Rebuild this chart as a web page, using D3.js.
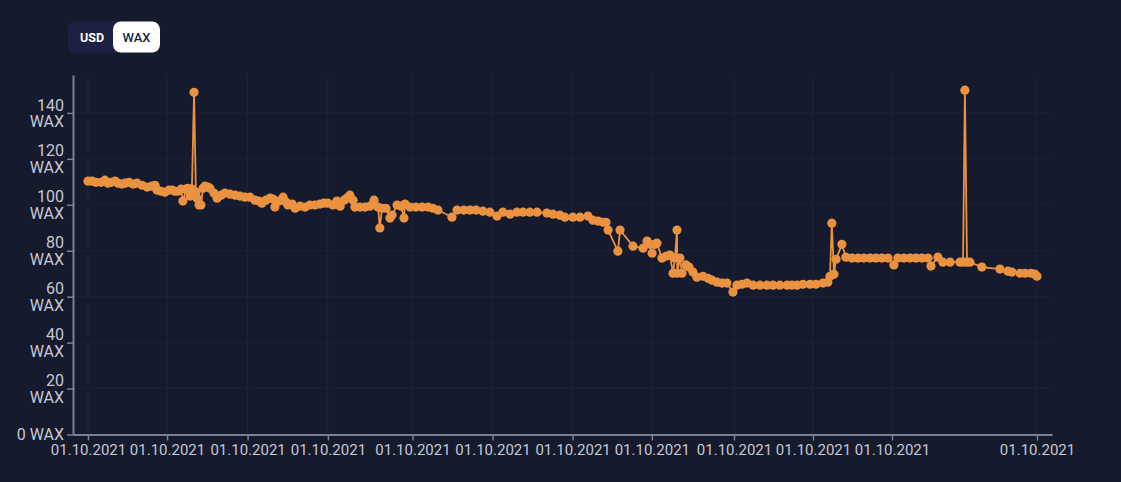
<!DOCTYPE html>
<html>
<head>
<meta charset="utf-8">
<script src="https://cdn.jsdelivr.net/npm/d3@7"></script>
<style>
  html, body { margin: 0; padding: 0; background: #151a2d; }
  svg { display: block; }
</style>
</head>
<body>
<div id="chart"></div>
<script>
// ---- data (x = days since first point, y = price in WAX) ----
const days = [0.0,1.5,3.0,4.9,6.4,7.5,8.7,10.2,11.3,12.8,14.0,15.5,17.0,18.5,20.4,22.3,24.1,25.3,26.0,27.5,29.0,30.6,31.7,32.8,33.9,35.1,35.8,37.0,37.7,38.5,39.2,40.0,40.7,41.1,41.9,42.6,43.4,44.1,45.3,46.0,47.5,48.7,50.2,51.7,53.6,55.5,57.3,59.2,61.1,63.0,64.5,65.6,67.1,68.7,69.8,70.5,72.0,73.6,74.7,75.4,77.0,78.1,80.0,81.9,83.7,85.6,87.5,89.0,90.5,92.4,93.9,95.1,96.6,97.7,98.8,100.0,100.7,102.6,104.5,106.4,107.9,109.4,110.1,110.9,112.4,113.9,114.7,116.6,118.1,119.2,119.6,121.5,123.7,126.0,128.3,130.1,132.0,137.3,139.2,141.8,144.1,146.4,149.0,151.6,154.3,156.5,159.2,161.8,164.1,166.7,169.4,173.1,175.4,178.0,179.9,182.9,185.6,188.6,190.5,192.4,194.3,195.4,196.2,199.9,200.7,205.6,209.4,210.9,212.0,212.8,213.9,214.6,216.5,218.0,219.5,220.7,221.4,222.2,222.3,223.3,224.1,225.6,226.7,228.2,229.7,232.0,233.9,235.4,237.3,239.2,241.0,243.3,244.8,246.7,248.6,250.9,253.5,256.1,258.4,261.0,263.7,265.6,267.5,269.7,272.4,274.6,277.3,279.1,279.9,280.6,281.4,282.2,284.4,285.9,288.2,290.5,292.7,295.0,297.2,299.5,301.8,304.0,305.5,307.8,310.1,312.3,314.6,316.9,318.0,320.6,322.5,325.2,328.9,330.1,330.8,331.6,332.7,337.2,344.0,347.0,348.5,351.6,353.5,355.7,357.2,358.0];
const prices = [110.3,110.3,109.8,109.8,110.7,109.4,109.8,110.3,109.4,109.0,109.4,109.8,109.0,109.4,108.5,107.7,108.1,108.5,106.4,105.9,105.5,106.4,106.4,105.9,105.9,106.8,101.6,106.8,107.2,103.8,106.8,149.0,105.5,102.9,99.9,99.9,107.2,108.1,107.7,107.2,105.1,102.9,104.2,105.1,104.6,104.2,103.8,103.3,103.3,102.0,101.6,100.7,102.0,102.9,102.5,99.0,101.6,103.3,101.2,99.9,100.3,98.5,99.4,99.0,99.9,99.9,100.3,100.7,100.7,99.9,101.6,99.4,102.0,102.9,104.2,102.0,99.0,99.0,99.0,99.4,102.0,99.0,89.9,98.5,98.5,94.2,95.5,99.9,99.4,94.2,100.3,99.0,99.0,99.0,99.0,98.5,97.7,94.6,97.7,97.7,97.7,97.7,97.2,96.8,95.1,96.8,95.9,96.8,96.8,96.8,96.8,96.4,95.9,95.5,94.6,94.6,94.6,95.1,93.3,92.9,92.4,92.4,89.0,79.8,89.0,82.0,81.1,84.2,82.8,78.9,82.8,83.3,76.8,77.6,78.1,70.2,76.8,89.0,70.2,76.8,70.2,73.8,72.9,70.7,68.5,68.9,68.0,67.2,66.3,65.9,65.9,62.0,65.0,65.4,65.9,65.0,65.0,65.0,65.0,65.0,65.0,65.0,65.0,65.4,65.4,65.4,65.9,66.3,68.9,92.0,69.8,76.3,82.8,77.2,76.8,76.8,76.8,76.8,76.8,76.8,76.8,73.8,76.8,76.8,76.8,76.8,76.8,76.8,73.3,77.2,75.0,75.0,75.0,75.0,149.9,75.0,75.0,72.9,72.0,71.1,70.7,70.2,70.2,70.2,69.8,68.9];
const xTickDays = [0, 29.8, 60.2, 90.5, 122.4, 152.6, 182.8, 212.7, 243.7, 273.5, 303.3, 358];
const xTickLabel = "01.10.2021";
const yTicks = [0, 20, 40, 60, 80, 100, 120, 140];
const unit = "WAX";
const toggleOptions = ["USD", "WAX"];
const activeOption = "WAX";

// ---- layout ----
const W = 1121, H = 482;
const svg = d3.select("#chart").append("svg").attr("width", W).attr("height", H);
svg.append("rect").attr("width", W).attr("height", H).attr("fill", "#151a2d");

const x = d3.scaleLinear().domain([-5.66, 363.66]).range([73, 1052]);
const y = d3.scaleLinear().domain([0, 156.5]).range([434.5, 75]);

const gridColor = "#1e2338";
const axisColor = "#7d8091";
const labelColor = "#c5c8d3";
const font = "Roboto, 'Open Sans', sans-serif";

// grid
const grid = svg.append("g");
grid.selectAll(".hg").data(yTicks.filter(d => d > 0)).join("line")
  .attr("x1", 73).attr("x2", 1052)
  .attr("y1", d => y(d)).attr("y2", d => y(d))
  .attr("stroke", gridColor).attr("stroke-width", 1);
grid.selectAll(".vg").data(xTickDays).join("line")
  .attr("x1", d => x(d)).attr("x2", d => x(d))
  .attr("y1", 75).attr("y2", 434.5)
  .attr("stroke", gridColor).attr("stroke-width", 1);

// axes
const yAxis = svg.append("g").attr("transform", "translate(73,0)")
  .call(d3.axisLeft(y).tickValues(yTicks).tickSize(6).tickSizeOuter(0).tickFormat(""));
const xAxis = svg.append("g").attr("transform", "translate(0,434.5)")
  .call(d3.axisBottom(x).tickValues(xTickDays).tickSize(6).tickSizeOuter(0).tickFormat(() => xTickLabel));
[yAxis, xAxis].forEach(g => {
  g.select(".domain").attr("stroke", axisColor).attr("stroke-width", 2);
  g.selectAll(".tick line").attr("stroke", axisColor).attr("stroke-width", 1.5);
});
xAxis.selectAll(".tick text")
  .attr("fill", labelColor).attr("font-family", font).attr("font-size", 15)
  .attr("dy", null).attr("y", 20);

// y labels (wrapped like the original: value on one line, unit below)
const yl = svg.append("g").attr("font-family", font).attr("font-size", 16)
  .attr("fill", labelColor).attr("text-anchor", "end");
yTicks.forEach(v => {
  if (v === 0) {
    yl.append("text").attr("x", 64).attr("y", y(v)).attr("dy", "0.35em").text(v + " " + unit);
  } else {
    yl.append("text").attr("x", 64).attr("y", y(v) - 8).attr("dy", "0.35em").text(v);
    yl.append("text").attr("x", 64).attr("y", y(v) + 8.5).attr("dy", "0.35em").text(unit);
  }
});

// line + dots
const data = days.map((d, i) => ({ d, v: prices[i] }));
const orange = "#ea9240";
svg.append("path").datum(data)
  .attr("fill", "none").attr("stroke", orange).attr("stroke-width", 1.8)
  .attr("d", d3.line().x(p => x(p.d)).y(p => y(p.v)));
svg.append("g").selectAll("circle").data(data).join("circle")
  .attr("cx", p => x(p.d)).attr("cy", p => y(p.v)).attr("r", 4.6)
  .attr("fill", orange);

// toggle
const tg = svg.append("g").attr("font-family", "Roboto, sans-serif");
tg.append("rect").attr("x", 68).attr("y", 21).attr("width", 92).attr("height", 32)
  .attr("rx", 8).attr("fill", "#1c2142");
const btnX = [70, 113];
toggleOptions.forEach((o, i) => {
  const active = o === activeOption;
  if (active) {
    tg.append("rect").attr("x", btnX[i]).attr("y", 21.5).attr("width", 47).attr("height", 31)
      .attr("rx", 8).attr("fill", "#ffffff");
  }
  tg.append("text").attr("x", btnX[i] + (i === 0 ? 22 : 23.5)).attr("y", 37.5).attr("dy", "0.35em")
    .attr("text-anchor", "middle").attr("font-size", active ? 13 : 12.5)
    .attr("font-weight", active ? 500 : 700)
    .attr("fill", active ? "#1a1f45" : "#ffffff").text(o);
});
</script>
</body>
</html>
